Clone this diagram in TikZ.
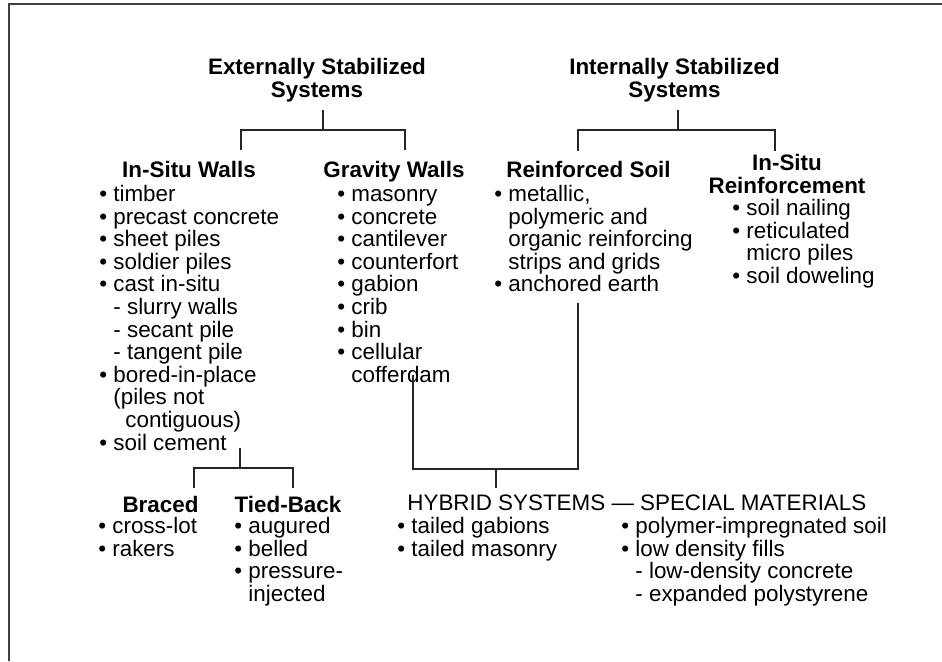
\documentclass[tikz,border=0pt]{standalone}
\usepackage{fontspec}
\setmainfont{Liberation Sans}
\newcommand\bl{\makebox[7pt][l]{•}}
\newcommand\ii{\hspace*{7pt}}
\newcommand\fr{\rule{0pt}{9pt}}
\begin{document}
\begin{tikzpicture}[x=0.5pt,y=-0.5pt,
  base font/.style={font=\fontsize{11.2}{11.3}\selectfont},
  blk/.style={base font, inner sep=0pt, anchor=north west, align=left},
  hd/.style={base font, font=\fontsize{11.2}{11.3}\selectfont\bfseries, inner sep=0pt, anchor=base},
  hd2/.style={font=\fontsize{11.2}{11.3}\selectfont\bfseries, inner sep=0pt, anchor=north, align=center},
  conn/.style={line width=0.75pt, black!85},
  frame/.style={line width=0.6pt, black!75}]
\useasboundingbox (0,0) rectangle (942,661);
% frame
\coordinate (fbl) at (9,661);
\coordinate (ftl) at (9,4);
\coordinate (ftr) at (942,4);
\draw[frame] (fbl) -- (ftl) -- (ftr);

% top headings
\node[hd2] (ext) at (317,56) {\fr Externally Stabilized\\Systems};
\node[hd2] (int) at (674.5,56) {\fr Internally Stabilized\\Systems};

% second level headings
\node[hd] (isw) at (189,177) {In-Situ Walls};
\node[hd] (grw) at (394,177) {Gravity Walls};
\node[hd] (rfs) at (588.5,177) {Reinforced Soil};
\node[hd2] (isr) at (787,152) {\fr In-Situ\\Reinforcement};

% lists
\node[blk] (iswl) at (99,183) {\fr\bl timber\\
\bl precast concrete\\
\bl sheet piles\\
\bl soldier piles\\
\bl cast in-situ\\
\ii - slurry walls\\
\ii - secant pile\\
\ii - tangent pile\\
\bl bored-in-place\\
\ii (piles not\\
\ii\hspace*{6pt}contiguous)\\
\bl soil cement};

\node[blk] (grwl) at (337,183) {\fr\bl masonry\\
\bl concrete\\
\bl cantilever\\
\bl counterfort\\
\bl gabion\\
\bl crib\\
\bl bin\\
\bl cellular\\
\ii cofferdam};

\node[blk] (rfsl) at (494,183) {\fr\bl metallic,\\
\ii polymeric and\\
\ii organic reinforcing\\
\ii strips and grids\\
\bl anchored earth};

\node[blk] (isrl) at (732,197) {\fr\bl soil nailing\\
\bl reticulated\\
\ii micro piles\\
\bl soil doweling};

% bottom left
\node[hd] (brc) at (160.5,512) {Braced};
\node[hd] (tdb) at (288,512) {Tied-Back};
\node[blk] (brcl) at (98,515) {\fr\bl cross-lot\\
\bl rakers};
\node[blk] (tdbl) at (234,515) {\fr\bl augured\\
\bl belled\\
\bl pressure-\\
\ii injected};

% hybrid
\node[base font, inner sep=0pt, anchor=base west] (hyb) at (407,510) {HYBRID SYSTEMS — SPECIAL MATERIALS};
\node[blk] (hybl) at (397,515) {\fr\bl tailed gabions\\
\bl tailed masonry};
\node[blk] (hybr) at (621,515) {\fr\bl polymer-impregnated soil\\
\bl low density fills\\
\ii - low-density concrete\\
\ii - expanded polystyrene};

% connectors: externally stabilized
\coordinate (e0) at (323,110);
\coordinate (e1) at (323,130);
\coordinate (eL) at (241,130);
\coordinate (eR) at (405,130);
\coordinate (eLd) at (241,150);
\coordinate (eRd) at (405,150);
\draw[conn] (e0) -- (e1);
\draw[conn] (eLd) -- (eL) -- (eR) -- (eRd);

% internally stabilized
\coordinate (i0) at (678,110);
\coordinate (i1) at (678,130);
\coordinate (iL) at (578,130);
\coordinate (iR) at (775,130);
\coordinate (iLd) at (578,151);
\coordinate (iRd) at (775,151);
\draw[conn] (i0) -- (i1);
\draw[conn] (iLd) -- (iL) -- (iR) -- (iRd);

% hybrid connectors
\coordinate (rs0) at (578,303);
\coordinate (rs1) at (578,469);
\coordinate (gw0) at (413,375);
\coordinate (gw1) at (413,469);
\coordinate (hy1) at (496,469);
\coordinate (hy0) at (496,488);
\draw[conn] (gw0) -- (gw1) -- (rs1) -- (rs0);
\draw[conn] (hy1) -- (hy0);

% in-situ walls split
\coordinate (is0) at (240,448);
\coordinate (is1) at (240,468);
\coordinate (bL) at (194,468);
\coordinate (bR) at (293,468);
\coordinate (bLd) at (194,488);
\coordinate (bRd) at (293,488);
\draw[conn] (is0) -- (is1);
\draw[conn] (bLd) -- (bL) -- (bR) -- (bRd);
\end{tikzpicture}
\end{document}
